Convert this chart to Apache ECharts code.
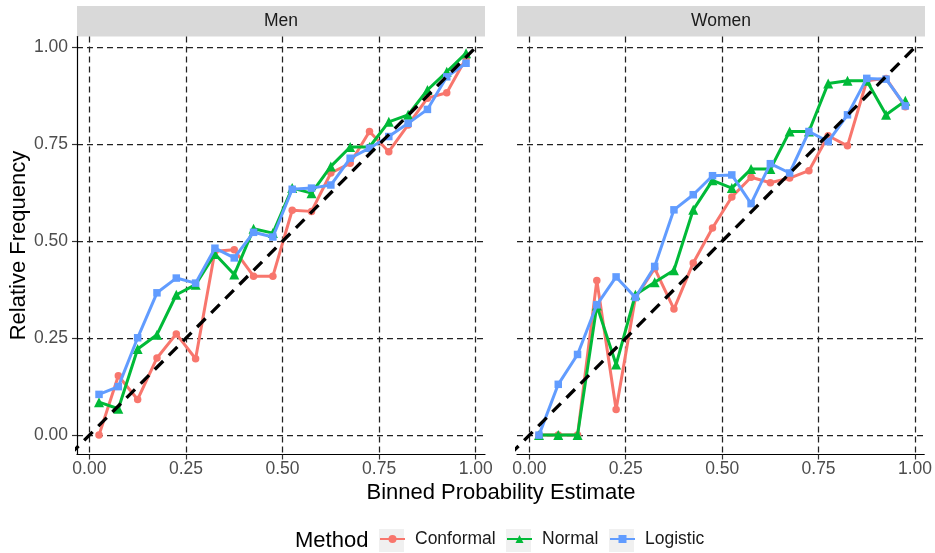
<!DOCTYPE html>
<html>
<head>
<meta charset="utf-8">
<script src="https://cdn.jsdelivr.net/npm/echarts@6/dist/echarts.min.js"></script>
<style>
  html, body { margin: 0; padding: 0; background: #fff; }
  #chart { width: 935px; height: 553px; }
</style>
</head>
<body>
<div id="chart"></div>
<script>
// bin midpoints on the x axis
const binMid = [0.025, 0.075, 0.125, 0.175, 0.225, 0.275, 0.325, 0.375, 0.425, 0.475,
                0.525, 0.575, 0.625, 0.675, 0.725, 0.775, 0.825, 0.875, 0.925, 0.975];
const tickValues = [0, 0.25, 0.5, 0.75, 1];
const panels = ["Men", "Women"];
const methods = ["Conformal", "Normal", "Logistic"];

// relative frequency per bin
const menConformal = [0.00, 0.153, 0.092, 0.199, 0.261, 0.197, 0.474, 0.478, 0.410, 0.410,
                      0.580, 0.577, 0.676, 0.701, 0.783, 0.731, 0.800, 0.869, 0.883, 0.972];
const menNormal = [0.085, 0.068, 0.222, 0.259, 0.362, 0.388, 0.467, 0.414, 0.532, 0.521,
                   0.637, 0.624, 0.693, 0.743, 0.743, 0.808, 0.826, 0.890, 0.937, 0.985];
const menLogistic = [0.105, 0.125, 0.251, 0.367, 0.405, 0.392, 0.482, 0.457, 0.523, 0.511,
                     0.634, 0.637, 0.645, 0.714, 0.740, 0.770, 0.804, 0.840, 0.924, 0.959];
const womenConformal = [0.00, 0.00, 0.00, 0.399, 0.066, 0.354, 0.430, 0.325, 0.444, 0.534,
                        0.614, 0.665, 0.651, 0.663, 0.682, 0.772, 0.746, 0.914, 0.920, 0.847];
const womenNormal = [0.00, 0.00, 0.00, 0.334, 0.182, 0.362, 0.394, 0.425, 0.581, 0.657,
                     0.637, 0.686, 0.686, 0.783, 0.783, 0.907, 0.914, 0.914, 0.826, 0.862];
const womenLogistic = [0.00, 0.131, 0.208, 0.336, 0.408, 0.355, 0.435, 0.581, 0.620, 0.669,
                       0.671, 0.597, 0.700, 0.676, 0.783, 0.757, 0.826, 0.920, 0.918, 0.849];

// y = x reference line extent
const refLine = [-0.05, 1.008];

const panelValues = [
  [menConformal, menNormal, menLogistic],
  [womenConformal, womenNormal, womenLogistic]
];

const FONT = "'Liberation Sans', Arial, Helvetica, sans-serif";
const colors = { Conformal: "#F8766D", Normal: "#00BA38", Logistic: "#619CFF" };
const marks = { Conformal: ["circle", 7.5], Normal: ["triangle", 10], Logistic: ["rect", 7.5] };

const gridLeft = [77, 517];
const gridTop = 36.5, gridW = 408, gridH = 418;
const keyLeft = [379, 506, 609];

const gridLine = { type: [6, 4], color: "#222", width: 1.25 };

const grids = panels.map((p, i) => ({ left: gridLeft[i], top: gridTop, width: gridW, height: gridH }));

const xAxes = panels.map((p, i) => ({
  type: "value", gridIndex: i, min: -0.032, max: 1.024,
  axisLine: { show: true, onZero: false, lineStyle: { color: "#000", width: 1.2 } },
  axisTick: { show: true, length: 5, customValues: tickValues, lineStyle: { color: "#333", width: 1.2 } },
  axisLabel: { customValues: tickValues, formatter: v => v.toFixed(2), margin: 6,
               fontSize: 17.5, color: "#4D4D4D", fontFamily: FONT },
  splitLine: { show: true, lineStyle: gridLine }
}));

const yAxes = panels.map((p, i) => ({
  type: "value", gridIndex: i, min: -0.05, max: 1.028,
  name: i === 0 ? "Relative Frequency" : "",
  nameLocation: "middle", nameGap: 45,
  nameTextStyle: { fontSize: 22, color: "#000", fontFamily: FONT },
  axisLine: { show: i === 0, onZero: false, lineStyle: { color: "#000", width: 1.2 } },
  axisTick: { show: i === 0, length: 5, customValues: tickValues, lineStyle: { color: "#333", width: 1.2 } },
  axisLabel: { show: i === 0, customValues: tickValues, formatter: v => v.toFixed(2), margin: 9,
               fontSize: 17.5, color: "#4D4D4D", fontFamily: FONT },
  splitLine: { show: true, lineStyle: gridLine }
}));

const series = [];
panels.forEach((p, i) => {
  methods.forEach((m, k) => {
    series.push({
      name: m, type: "line", xAxisIndex: i, yAxisIndex: i,
      data: binMid.map((x, j) => [x, panelValues[i][k][j]]),
      symbol: marks[m][0], symbolSize: marks[m][1], showSymbol: true,
      itemStyle: { color: colors[m] },
      lineStyle: { color: colors[m], width: 3 },
      z: 2 + k, silent: true
    });
  });
  series.push({
    name: "ref", type: "line", xAxisIndex: i, yAxisIndex: i,
    data: refLine.map(v => [v, v]), symbol: "none", clip: true,
    lineStyle: { color: "#000", width: 3.3, type: [12, 8] }, z: 6, silent: true
  });
});

const graphic = [];
panels.forEach((p, i) => {
  graphic.push({ type: "rect", left: gridLeft[i], top: 6, shape: { width: gridW, height: 30.5 },
                 style: { fill: "#D9D9D9" }, silent: true });
  graphic.push({ type: "text", x: gridLeft[i] + gridW / 2, y: 21.5,
                 style: { text: p, fill: "#1A1A1A", font: "17.5px " + FONT,
                          textAlign: "center", textVerticalAlign: "middle" } });
});
keyLeft.forEach(x => {
  graphic.push({ type: "rect", left: x, top: 529, shape: { width: 25, height: 23 },
                 style: { fill: "#F0F0F0" }, silent: true, z: -1 });
});
graphic.push({ type: "text", x: 501, y: 493,
               style: { text: "Binned Probability Estimate", fill: "#000", font: "22px " + FONT,
                        textAlign: "center", textVerticalAlign: "middle" } });
graphic.push({ type: "text", x: 295, y: 541,
               style: { text: "Method", fill: "#000", font: "22px " + FONT,
                        textAlign: "left", textVerticalAlign: "middle" } });

const chart = echarts.init(document.getElementById("chart"));
chart.setOption({
  animation: false,
  backgroundColor: "#fff",
  grid: grids,
  xAxis: xAxes,
  yAxis: yAxes,
  series: series,
  legend: methods.map((m, k) => ({
    data: [m], left: keyLeft[k], top: 530, padding: 0, itemWidth: 25, itemHeight: 10,
    selectedMode: false,
    textStyle: { fontSize: 17.5, color: "#1A1A1A", fontFamily: FONT, padding: [0, 0, 0, 5] }
  })),
  graphic: graphic
});
</script>
</body>
</html>
